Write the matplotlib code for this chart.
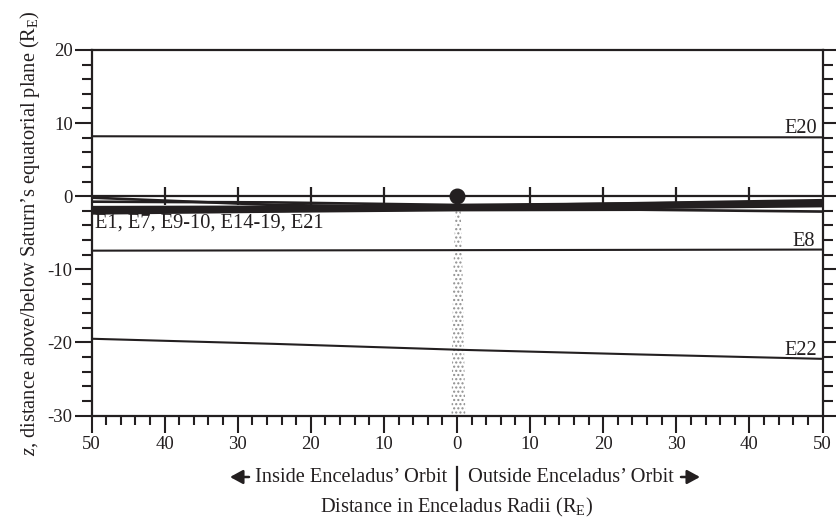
import numpy as np
import matplotlib
matplotlib.use("Agg")
import matplotlib.pyplot as plt
from matplotlib.patches import FancyArrowPatch
from matplotlib.ticker import MultipleLocator, FuncFormatter

plt.rcParams['font.family'] = ['Liberation Serif', 'DejaVu Serif']
plt.rcParams['mathtext.fontset'] = 'custom'
plt.rcParams['mathtext.rm'] = 'Liberation Serif'
plt.rcParams['mathtext.it'] = 'Liberation Serif:italic'
plt.rcParams['axes.unicode_minus'] = False
plt.rcParams['hatch.linewidth'] = 1.0
plt.rcParams['hatch.color'] = '#8f8f8f'

INK = '#231f20'

# Flyby trajectories: x along orbit (R_E), z height (R_E)
e20_x = [-50, 0, 50]
e20_z = [8.2, 8.12, 8.05]
e8_x = [-50, 0, 50]
e8_z = [-7.45, -7.38, -7.3]
e22_x = [-50, -25, 0, 25, 50]
e22_z = [-19.5, -20.2, -21.0, -21.65, -22.25]

# Near-equatorial flybys (E1, E7, E9-10, E14-19, E21)
bundle_x = [-50, -25, 0, 25, 50]
bundle_z = [
    [-0.2, -1.2, -1.5, -1.2, -0.9],
    [-0.75, -0.85, -1.2, -1.0, -0.7],
    [-1.5, -1.45, -1.35, -0.95, -0.55],
    [-1.7, -1.6, -1.5, -1.1, -0.75],
    [-1.9, -1.75, -1.6, -1.3, -1.0],
    [-2.05, -1.9, -1.7, -1.45, -1.2],
    [-2.2, -2.0, -1.8, -1.6, -1.35],
    [-2.35, -2.1, -1.9, -1.85, -2.1],
]

# Plume column below the moon
plume_z = [-1.8, -10, -20, -30]
plume_left = [-0.2, -0.5, -0.65, -0.75]
plume_right = [0.5, 0.75, 0.95, 1.15]

# Reference orbit-plane ticks
orbit_ticks = [-40, -30, -20, -10, 10, 20, 30, 40]

fig = plt.figure(figsize=(8.36, 5.2), dpi=100)
ax = fig.add_axes([91.5 / 836, 1 - 415.5 / 520, 731 / 836, 365.5 / 520])

ax.set_xlim(-50, 50)
ax.set_ylim(-30, 20)

# plume stipple
ax.fill_betweenx(plume_z, plume_left, plume_right, facecolor='none',
                 edgecolor='#8f8f8f', hatch='....', linewidth=0, zorder=1)

ax.axhline(0, color=INK, lw=1.6, zorder=3)
ax.plot(orbit_ticks, [0] * len(orbit_ticks), ls='none', marker='|',
        ms=13, mew=1.6, color=INK, zorder=3)

for zs in bundle_z:
    ax.plot(bundle_x, zs, color=INK, lw=1.9, solid_capstyle='butt', zorder=4)

ax.plot(e20_x, e20_z, color=INK, lw=1.5, zorder=4)
ax.plot(e8_x, e8_z, color=INK, lw=1.5, zorder=4)
ax.plot(e22_x, e22_z, color=INK, lw=1.5, zorder=4)

ax.plot([0], [0], 'o', ms=10.5, color=INK, zorder=5)

lab_fs = 14.7
ax.text(49.2, 8.67, 'E20', ha='right', va='baseline', fontsize=lab_fs, color=INK)
ax.text(49.0, -6.87, 'E8', ha='right', va='baseline', fontsize=lab_fs, color=INK)
ax.text(49.2, -21.7, 'E22', ha='right', va='baseline', fontsize=lab_fs, color=INK)
ax.text(-49.5, -4.25, 'E1, E7, E9-10, E14-19, E21', ha='left', va='baseline',
        fontsize=lab_fs, color=INK)

# axes styling
for s in ax.spines.values():
    s.set_color(INK)
    s.set_linewidth(1.6)

ax.xaxis.set_major_locator(MultipleLocator(10))
ax.xaxis.set_minor_locator(MultipleLocator(2))
ax.yaxis.set_major_locator(MultipleLocator(10))
ax.yaxis.set_minor_locator(MultipleLocator(2))
ax.xaxis.set_major_formatter(FuncFormatter(lambda v, p: f'{abs(int(round(v)))}'))
ax.yaxis.set_major_formatter(FuncFormatter(lambda v, p: f'{int(round(v))}'))

tick_fs = 13.5
ax.tick_params(axis='x', which='major', direction='out', length=12, width=1.5,
               colors=INK, labelsize=tick_fs, pad=3, top=False)
ax.tick_params(axis='x', which='minor', direction='out', length=6.5, width=1.5,
               colors=INK, top=False)
ax.tick_params(axis='y', which='major', direction='out', length=12.5, width=1.5,
               colors=INK, labelsize=tick_fs, pad=1, right=True)
ax.tick_params(axis='y', which='minor', direction='out', length=7.5, width=1.5,
               colors=INK, right=True)

ax.set_ylabel(r'$z$, distance above/below Saturn’s equatorial plane (R$_\mathrm{E}$)',
              fontsize=lab_fs, color=INK, labelpad=4)

# orbit-side caption under the x axis
cap_y = 1 - 477 / 520
fig.text(447 / 836, cap_y, 'Inside Enceladus’ Orbit', ha='right', va='center',
         fontsize=lab_fs, color=INK)
fig.text(468 / 836, cap_y, 'Outside Enceladus’ Orbit', ha='left', va='center',
         fontsize=lab_fs, color=INK)
fig.add_artist(plt.Line2D([457 / 836, 457 / 836], [1 - 467 / 520, 1 - 490 / 520],
                          color=INK, lw=1.6, transform=fig.transFigure))
arrow_kw = dict(arrowstyle='-|>,head_length=0.55,head_width=0.3', color=INK,
                lw=1.8, shrinkA=0, shrinkB=0, mutation_scale=14,
                transform=fig.transFigure)
fig.add_artist(FancyArrowPatch((249 / 836, cap_y), (230 / 836, cap_y), **arrow_kw))
fig.add_artist(FancyArrowPatch((681 / 836, cap_y), (700 / 836, cap_y), **arrow_kw))
fig.text(457 / 836, 1 - 507 / 520, r'Distance in Enceladus Radii (R$_\mathrm{E}$)',
         ha='center', va='center', fontsize=lab_fs, color=INK)

fig.savefig('out.png', dpi=100, facecolor='white')
